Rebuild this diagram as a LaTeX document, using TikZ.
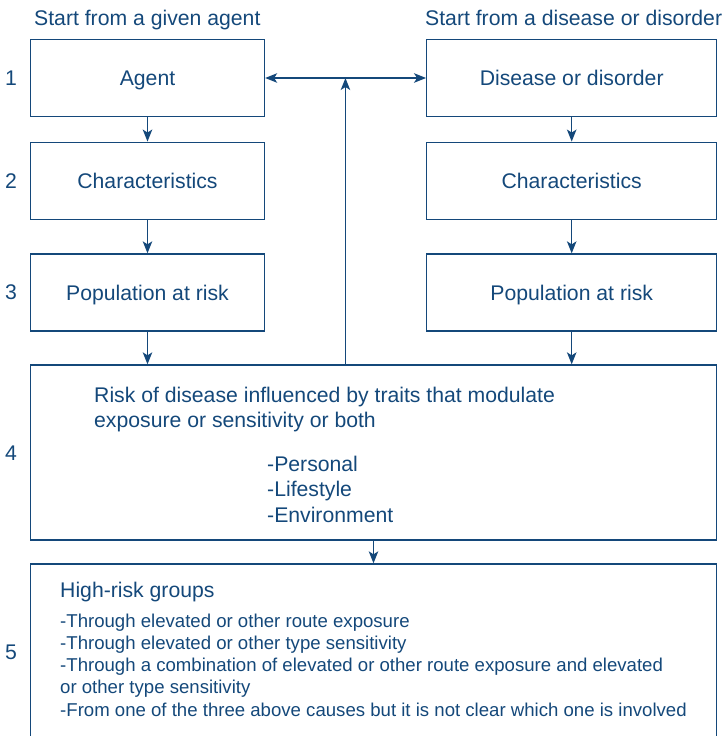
\documentclass[tikz,border=0pt]{standalone}
\usepackage{fontspec}
\setmainfont{Liberation Sans}
\usetikzlibrary{arrows.meta}
\definecolor{ink}{HTML}{14487A}
\begin{document}
\begin{tikzpicture}[x=1bp,y=-1bp,
  every node/.style={text=ink, font=\fontsize{21.2bp}{25bp}\selectfont},
  box/.style={draw=ink, line width=1.3bp, minimum height=77bp, inner sep=0pt, text height=15.2bp, text depth=0pt},
  lbox/.style={box, minimum width=234bp},
  rbox/.style={box, minimum width=290bp},
  tip/.tip={Stealth[length=12bp,width=9.5bp,inset=3bp]},
  arr/.style={draw=ink, line width=1.3bp, -tip},
  txt/.style={anchor=base west, inner sep=0pt},
  small/.style={txt, font=\fontsize{18.6bp}{22bp}\selectfont}]
\useasboundingbox (0,0) rectangle (723,736);
\clip (0,0) rectangle (723,736);
% headings
\node[txt] (tl) at (34,26) {Start from a given agent};
\node[txt] (tr) at (425,26) {Start from a disease or disorder};
% row numbers
\node (n1) at (11,78) {1};
\node (n2) at (11,180.7) {2};
\node (n3) at (11,292.5) {3};
\node (n4) at (11,453) {4};
\node (n5) at (11,652) {5};
% boxes
\node[lbox] (a1) at (147.5,78) {Agent};
\node[rbox] (d1) at (571.7,78) {Disease or disorder};
\node[lbox] (a2) at (147.5,180.7) {Characteristics};
\node[rbox] (d2) at (571.7,180.7) {Characteristics};
\node[lbox] (a3) at (147.5,292.5) {Population at risk};
\node[rbox] (d3) at (571.7,292.5) {Population at risk};
\node[box, minimum width=686bp, minimum height=175bp] (b4) at (373.5,452.5) {};
\node[box, minimum width=686bp, minimum height=200bp] (b5) at (373.5,664) {};
% box 4 text
\node[txt] (r1) at (94,402.7) {Risk of disease influenced by traits that modulate};
\node[txt] (r2) at (94,427.7) {exposure or sensitivity or both};
\node[txt] (p1) at (267,471.7) {-Personal};
\node[txt] (p2) at (267,496.7) {-Lifestyle};
\node[txt] (p3) at (267,522.2) {-Environment};
% box 5 text
\node[txt] (h5) at (60,597) {High-risk groups};
\node[small] (g1) at (60,627) {-Through elevated or other route exposure};
\node[small] (g2) at (60,649.3) {-Through elevated or other type sensitivity};
\node[small] (g3) at (60,671.6) {-Through a combination of elevated or other route exposure and elevated};
\node[small] (g4) at (60,693.9) {or other type sensitivity};
\node[small] (g5) at (60,716.2) {-From one of the three above causes but it is not clear which one is involved};
% connectors
\draw[arr] (a1) -- (a2);
\draw[arr] (a2) -- (a3);
\draw[arr] (d1) -- (d2);
\draw[arr] (d2) -- (d3);
\draw[arr] (a3.south) -- (a3.south |- b4.north);
\draw[arr] (d3.south) -- (d3.south |- b4.north);
\draw[arr] (b4) -- (b5);
\draw[arr, tip-tip] (a1) -- (d1);
\path (b4.north west) ++(315.6,0) coordinate (up);
\draw[arr] (up) -- (up |- a1.east);
\end{tikzpicture}
\end{document}
